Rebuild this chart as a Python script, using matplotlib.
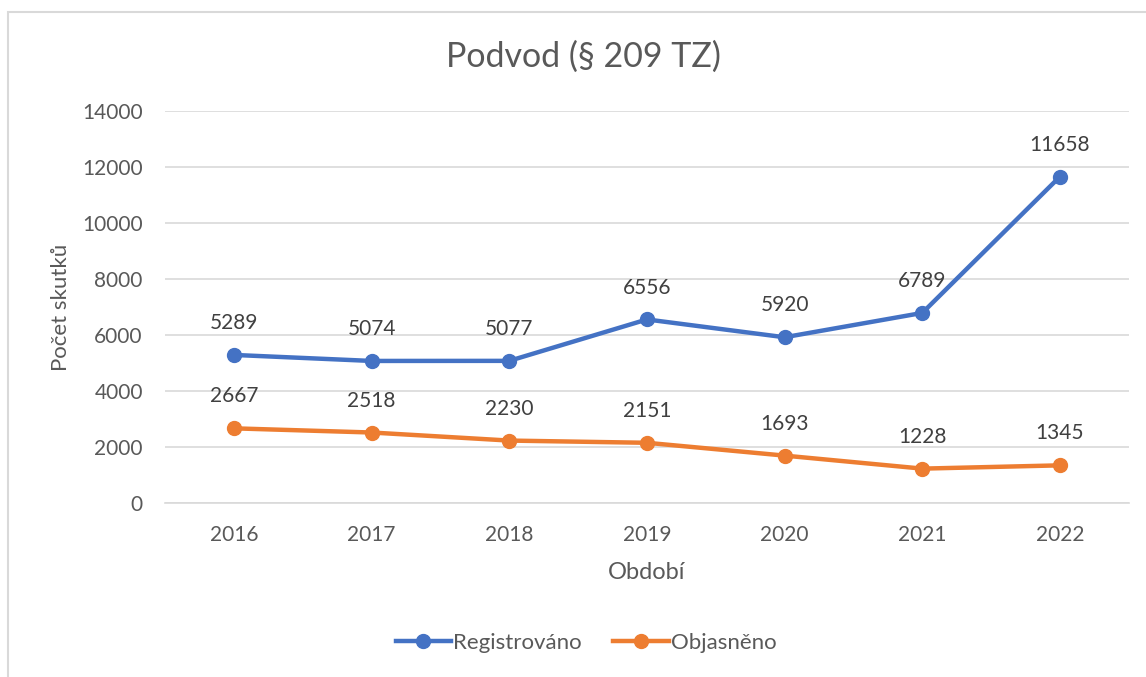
import matplotlib.pyplot as plt
from matplotlib.patches import Rectangle

years = ["2016", "2017", "2018", "2019", "2020", "2021", "2022"]
registrovano = [5289, 5074, 5077, 6556, 5920, 6789, 11658]
objasneno = [2667, 2518, 2230, 2151, 1693, 1228, 1345]

blue = "#4472C4"
orange = "#ED7D31"
txt = "#595959"

plt.rcParams["font.family"] = ["Lato", "DejaVu Sans"]

fig = plt.figure(figsize=(11.46, 6.77), dpi=100)
ax = fig.add_axes([0.144, 0.257, 0.841, 0.579])

# frame round the chart, cut by the right and bottom edge
fig.patches.append(Rectangle((8 / 1146, -0.1), 1.2, 0.1 + (677 - 12) / 677,
                             transform=fig.transFigure, fill=False,
                             edgecolor="#D9D9D9", linewidth=1.5))

x = list(range(len(years)))
ax.plot(x, registrovano, color=blue, lw=3.2, marker="o", ms=10, label="Registrováno")
ax.plot(x, objasneno, color=orange, lw=3.2, marker="o", ms=10, label="Objasněno")

for i in x:
    ax.annotate(str(registrovano[i]), (i, registrovano[i]), xytext=(0, 23),
                textcoords="offset points", ha="center", va="center",
                fontsize=15, color="#404040")
    ax.annotate(str(objasneno[i]), (i, objasneno[i]), xytext=(0, 23),
                textcoords="offset points", ha="center", va="center",
                fontsize=15, color="#404040")

ax.set_xlim(-0.5, len(years) - 0.5)
ax.set_ylim(0, 14000)
ax.set_yticks(range(0, 14001, 2000))
ax.set_xticks(x)
ax.set_xticklabels(years)
ax.grid(axis="y", color="#D9D9D9", lw=1.2)
ax.set_axisbelow(True)
for s in ["top", "right", "left"]:
    ax.spines[s].set_visible(False)
ax.spines["bottom"].set_color("#D9D9D9")
ax.spines["bottom"].set_linewidth(1.2)
ax.tick_params(length=0, colors=txt, labelsize=15, pad=16)
ax.tick_params(axis="y", pad=16)

fig.text(583 / 1146, 1 - 57 / 677, "Podvod (§ 209 TZ)", fontsize=24.5, color=txt,
         ha="center", va="center")
ax.set_xlabel("Období", fontsize=17, color=txt, labelpad=12)
ax.set_ylabel("Počet skutků", fontsize=16, color=txt, labelpad=8)

fig.legend(loc="center", bbox_to_anchor=(586 / 1146, 1 - 643 / 677), ncol=2,
           frameon=False, fontsize=16, labelcolor=txt, handlelength=2.5,
           handletextpad=0.1, columnspacing=1.4)

fig.savefig("out.png", dpi=100)
